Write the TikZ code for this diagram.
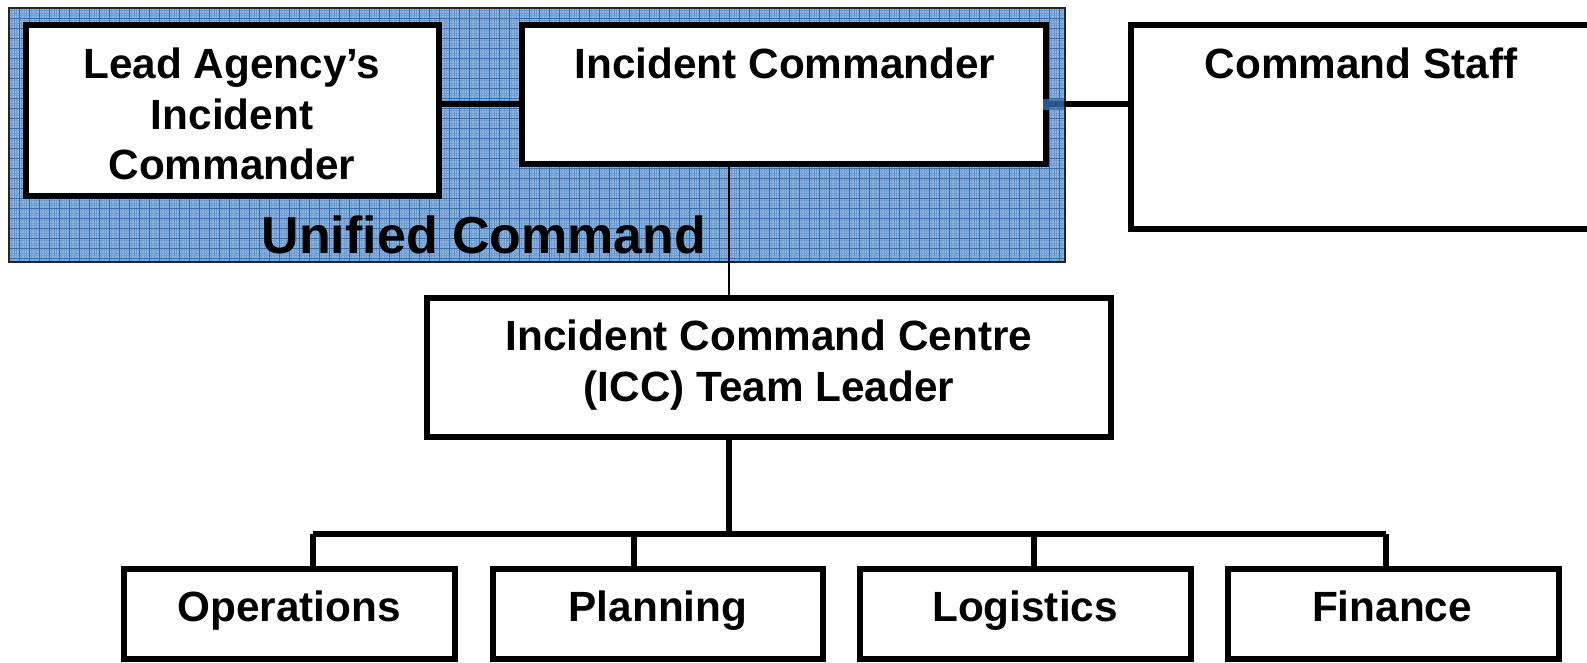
\documentclass[tikz,border=0pt]{standalone}
\usepackage{fontspec}
\setmainfont{Liberation Sans}
\definecolor{ucfill}{RGB}{141,179,222}
\definecolor{ucgrid}{RGB}{50,108,172}
\definecolor{ucmark}{RGB}{60,115,180}
\begin{document}
\begin{tikzpicture}[x=1pt,y=-1pt,
  box/.style={draw=black, line width=5.5pt, fill=white, rectangle, inner sep=0pt},
  lbl/.style={font=\fontsize{42.3}{50.5}\selectfont\bfseries, inner sep=0pt, align=center, anchor=base},
  conn/.style={line width=5.5pt},
  thinconn/.style={line width=2pt},
  gridline/.style={draw=ucgrid, line width=0.9pt},
  fineline/.style={draw=ucgrid!30!ucfill, line width=0.6pt}]
\useasboundingbox (0,0) rectangle (1587,663);
\clip (0,0) rectangle (1587,663);
% Unified Command background
\fill[ucfill] (9,8) rectangle (1065,262);
\begin{scope}
  \clip (9,8) rectangle (1065,262);
  \foreach \gx in {11.5,14,...,1065} {\draw[fineline] (\gx,8) -- (\gx,262);}
  \foreach \gy in {10.5,13,...,262} {\draw[fineline] (9,\gy) -- (1065,\gy);}
  \foreach \gx in {19,29,...,1065} {\draw[gridline] (\gx,8) -- (\gx,262);}
  \foreach \gy in {18,28,...,262} {\draw[gridline] (9,\gy) -- (1065,\gy);}
\end{scope}
\draw[line width=2pt, black!85] (9,8) rectangle (1065,262);
\node[font=\fontsize{52}{60}\selectfont\bfseries, inner sep=0pt, anchor=base] (uc) at (484,253) {Unified Command};
% boxes
\node[box, minimum width=413pt, minimum height=171pt] (lead) at (232.5,110.5) {};
\node[box, minimum width=524pt, minimum height=139pt] (ic) at (784,94.5) {};
\node[box, minimum width=469pt, minimum height=204pt] (cs) at (1365.5,127) {};
\node[box, minimum width=684pt, minimum height=139pt] (icc) at (769,367.5) {};
\node[box, minimum width=331pt, minimum height=90pt] (ops) at (289.5,614) {};
\node[box, minimum width=330pt, minimum height=90pt] (pln) at (658,614) {};
\node[box, minimum width=331pt, minimum height=90pt] (log) at (1025.5,614) {};
\node[box, minimum width=331pt, minimum height=90pt] (fin) at (1393.5,614) {};
% texts
\node[lbl] (leadt) at (232,180) {Lead Agency’s\\Incident\\Commander};
\node[lbl] (ict) at (785,79) {Incident Commander};
\node[lbl] (cst) at (1361,79) {Command Staff};
\node[lbl] (icct) at (769,401) {Incident Command Centre\\(ICC) Team Leader};
\node[lbl] (opst) at (289,621) {Operations};
\node[lbl] (plnt) at (658,621) {Planning};
\node[lbl] (logt) at (1025,621) {Logistics};
\node[lbl] (fint) at (1392,621) {Finance};
% connectors
\coordinate (h) at (0,104);
\coordinate (v) at (729,0);
\coordinate (bus) at (729,534);
\coordinate (d1) at (313,534);
\coordinate (d2) at (634,534);
\coordinate (d3) at (1034,534);
\coordinate (d4) at (1386,534);
\draw[conn] (lead.east |- h) -- (ic.west |- h);
\draw[conn] (ic.east |- h) -- (cs.west |- h);
\draw[thinconn] (ic.south -| v) -- (icc.north -| v);
\draw[conn, line width=6pt] (icc.south -| v) -- (bus);
\draw[conn, line width=6pt] (d1) -- (d4);
\draw[conn] (d1) -- (d1 |- ops.north);
\draw[conn] (d2) -- (d2 |- pln.north);
\draw[conn] (d3) -- (d3 |- log.north);
\draw[conn] (d4) -- (d4 |- fin.north);
\fill[ucmark, opacity=0.75] (1043,99) rectangle (1064,110);
\end{tikzpicture}
\end{document}
